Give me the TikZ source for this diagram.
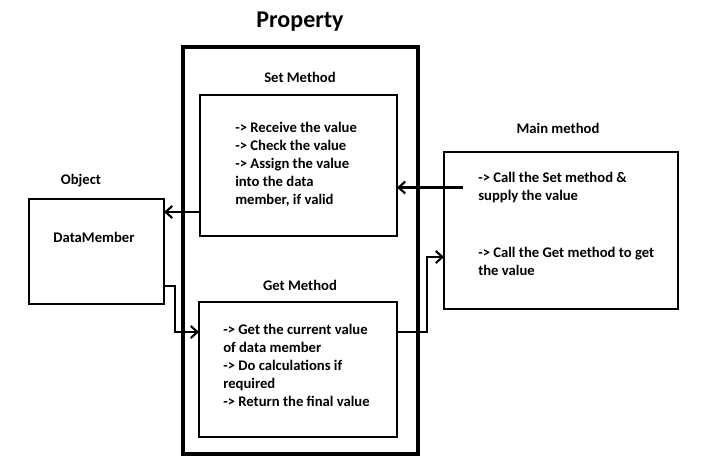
\documentclass[tikz,border=0pt]{standalone}
\usepackage{fontspec}
\setmainfont{Carlito}
\usetikzlibrary{arrows.meta}
\begin{document}
\begin{tikzpicture}[x=0.75pt,y=-0.75pt,
  box/.style={draw,line width=1.9pt,inner sep=0pt,outer sep=0pt},
  bigbox/.style={draw,line width=3pt,inner sep=0pt,outer sep=0pt},
  lbl/.style={font=\fontsize{11pt}{13.5pt}\selectfont\bfseries,inner sep=0pt},
  body/.style={font=\fontsize{11pt}{13.5pt}\selectfont\bfseries,inner sep=0pt,align=left,anchor=west},
  arr/.style={line width=1.6pt,-{Straight Barb[length=5pt,width=9pt,line width=1.6pt]}},
  conn/.style={line width=1.6pt}]
\useasboundingbox (0,0) rectangle (703,460);
% boxes
\node[bigbox,minimum width=176.25pt,minimum height=305.25pt] (prop) at (300.5,250.5) {};
\node[box,minimum width=147.75pt,minimum height=105.75pt] (setbox) at (298.5,165.5) {};
\node[box,minimum width=148.5pt,minimum height=101.25pt] (getbox) at (298,369.5) {};
\node[box,minimum width=101.25pt,minimum height=78.75pt] (obj) at (96.5,251.5) {};
\node[box,minimum width=175.5pt,minimum height=117.75pt] (main) at (561,230.5) {};
% labels
\node[inner sep=0pt,font=\fontsize{18pt}{21pt}\selectfont\bfseries] (proplbl) at (300,22) {Property};
\node[lbl] (setlbl) at (300,77) {Set Method};
\node[lbl] (getlbl) at (300,285) {Get Method};
\node[lbl] (objlbl) at (81,181) {Object};
\node[lbl] (dm) at (94,237) {DataMember};
\node[lbl] (mainlbl) at (558,128) {Main method};
% body texts
\node[body] (settxt) at (235,164.5) {-> Receive the value\\-> Check the value\\-> Assign the value\\into the data\\member, if valid};
\node[body] (gettxt) at (223,365.5) {-> Get the current value\\of data member\\-> Do calculations if\\required\\-> Return the final value};
\node[body] (maintxt1) at (478,187.5) {-> Call the Set method \&\\supply the value};
\node[body] (maintxt2) at (478,261.5) {-> Call the Get method to get\\the value};
% connectors
\coordinate (mainin) at (463,187.5);
\draw[arr] (mainin) -- (mainin -| setbox.east);
\draw[arr] (setbox.west |- 0,212) -- (obj.east |- 0,212);
\draw[arr] (obj.east |- 0,286) -- ++(11,0) |- (getbox.west |- 0,332);
\draw[arr] (getbox.east |- 0,332) -- (427,332) |- (main.west |- 0,257);
\end{tikzpicture}
\end{document}
